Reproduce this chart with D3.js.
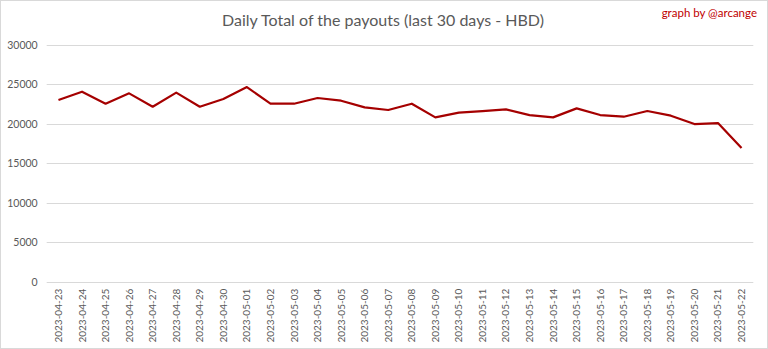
<!DOCTYPE html>
<html><head><meta charset="utf-8">
<script src="https://cdn.jsdelivr.net/npm/d3@7"></script>
<style>body{margin:0;background:#fff;}svg{display:block;}</style>
</head><body>
<script>
const dates = ["2023-04-23","2023-04-24","2023-04-25","2023-04-26","2023-04-27","2023-04-28","2023-04-29","2023-04-30","2023-05-01","2023-05-02","2023-05-03","2023-05-04","2023-05-05","2023-05-06","2023-05-07","2023-05-08","2023-05-09","2023-05-10","2023-05-11","2023-05-12","2023-05-13","2023-05-14","2023-05-15","2023-05-16","2023-05-17","2023-05-18","2023-05-19","2023-05-20","2023-05-21","2023-05-22"];
const payouts = [23030,24080,22560,23870,22180,23960,22180,23150,24670,22560,22560,23280,22940,22100,21760,22560,20830,21420,21630,21840,21120,20830,21970,21120,20910,21630,21040,19980,20110,16940];
const yTicks = [0,5000,10000,15000,20000,25000,30000];
const title = "Daily Total of the payouts (last 30 days - HBD)";
const credit = "graph by @arcange";

const W = 768, H = 349;
const svg = d3.select("body").append("svg").attr("width", W).attr("height", H);
svg.append("rect").attr("x",0.5).attr("y",0.5).attr("width",W-1).attr("height",H-1)
  .attr("fill","#fff").attr("stroke","#d9d9d9");

const mLeft = 46.7, mRight = 753.3, mTop = 45, mBottom = 281.7;
const x = d3.scaleBand().domain(dates).range([mLeft, mRight]);
const y = d3.scaleLinear().domain([0,30000]).range([mBottom, mTop]);

const font = "Lato, 'Open Sans', sans-serif";

// grid
svg.append("g").selectAll("line").data(yTicks).join("line")
  .attr("x1", mLeft).attr("x2", mRight)
  .attr("y1", d => Math.round(y(d))+0.5).attr("y2", d => Math.round(y(d))+0.5)
  .attr("stroke", "#d9d9d9").attr("stroke-width", 1);

// y axis labels
const yAxis = d3.axisLeft(y).tickValues(yTicks).tickSize(0).tickPadding(9).tickFormat(d3.format("d"));
const gy = svg.append("g").attr("transform", `translate(${mLeft},0)`).call(yAxis);
gy.select(".domain").remove();
gy.selectAll("text").attr("fill","#595959").style("font-family", font).style("font-size","10.5px");

// x axis labels
const xAxis = d3.axisBottom(x).tickSize(0).tickPadding(0);
const gx = svg.append("g").attr("transform", `translate(0,${mBottom})`).call(xAxis);
gx.select(".domain").remove();
gx.selectAll("text")
  .attr("fill","#595959").style("font-family", font).style("font-size","10px")
  .attr("text-anchor","end")
  .attr("transform","rotate(-90)")
  .attr("x", -7).attr("y", 0).attr("dy","0.35em");

// line
const line = d3.line().x((d,i) => x(dates[i]) + x.bandwidth()/2).y(d => y(d));
svg.append("path").datum(payouts).attr("d", line)
  .attr("fill","none").attr("stroke","#a50000").attr("stroke-width",2.2)
  .attr("stroke-linejoin","round");

// title
svg.append("text").attr("x", 383).attr("y", 26).attr("text-anchor","middle")
  .attr("fill","#595959").style("font-family", font).style("font-size","16px")
  .text(title);
svg.append("text").attr("x", 757).attr("y", 17).attr("text-anchor","end")
  .attr("fill","#c00000").style("font-family", font).style("font-size","11.5px")
  .text(credit);
</script>
</body></html>
